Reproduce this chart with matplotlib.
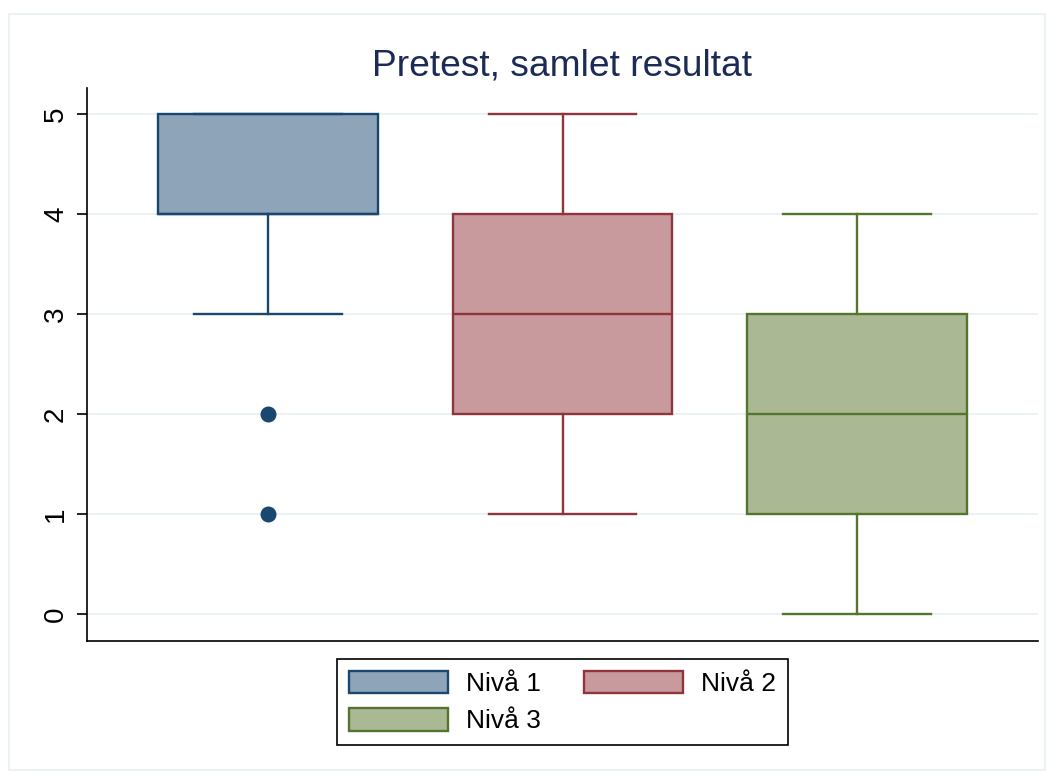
import matplotlib
matplotlib.use("Agg")
import matplotlib.pyplot as plt
from matplotlib.patches import Rectangle, Patch

plt.rcParams['font.family'] = ['Liberation Sans', 'DejaVu Sans']

# Box statistics per level (score 0-5)
levels = ["Nivå 1", "Nivå 2", "Nivå 3"]
q1 = [4, 2, 1]
medians = [4, 3, 2]
q3 = [5, 4, 3]
whisker_lo = [3, 1, 0]
whisker_hi = [5, 5, 4]
outliers = [[2, 1], [], []]

y_ticks = [0, 1, 2, 3, 4, 5]

edge_colors = ["#1a476f", "#90353b", "#55752f"]
fill_colors = ["#8ea4b9", "#c89a9d", "#aab994"]
grid_color = "#eaf2f3"
title_color = "#1c2b55"

fig = plt.figure(figsize=(10.5, 7.74), dpi=100)
fig.patches.append(Rectangle((9 / 1050, 1 - 770 / 774), 1036 / 1050, 756 / 774,
                             transform=fig.transFigure, fill=False,
                             edgecolor=grid_color, linewidth=1.5))

ax = fig.add_axes([87 / 1050, 1 - 641 / 774, 951 / 1050, 553 / 774])

stats = []
for i in range(len(levels)):
    stats.append({
        "med": medians[i], "q1": q1[i], "q3": q3[i],
        "whislo": whisker_lo[i], "whishi": whisker_hi[i],
        "fliers": outliers[i], "label": levels[i],
    })

positions = [1, 2, 3]
lw = 1.7
for i, st in enumerate(stats):
    ec = edge_colors[i]
    ax.bxp([st], positions=[positions[i]], widths=0.747, patch_artist=True,
           boxprops=dict(facecolor=fill_colors[i], edgecolor=ec, linewidth=lw),
           medianprops=dict(color=ec, linewidth=lw),
           whiskerprops=dict(color=ec, linewidth=lw),
           capprops=dict(color=ec, linewidth=lw),
           capwidths=0.5,
           flierprops=dict(marker="o", markerfacecolor=ec, markeredgecolor=ec,
                           markersize=10.5),
           zorder=3)

ax.set_xlim(0.385, 3.615)
ax.set_ylim(-0.27, 5.26)
ax.set_yticks(y_ticks)
ax.set_yticklabels([str(t) for t in y_ticks], rotation=90, va="center",
                   fontsize=20)
ax.tick_params(axis="y", length=7, width=1.2, pad=6, color="black")
ax.set_xticks([])
for y in y_ticks:
    ax.axhline(y, color=grid_color, linewidth=1.5, zorder=0)

ax.spines["top"].set_visible(False)
ax.spines["right"].set_visible(False)
ax.spines["left"].set_linewidth(1.2)
ax.spines["bottom"].set_linewidth(1.2)

ax.set_title("Pretest, samlet resultat", fontsize=26.7, color=title_color, pad=9)

# legend filled row by row: Nivå 1, Nivå 2 / Nivå 3
handles = [Patch(facecolor=fill_colors[i], edgecolor=edge_colors[i],
                 linewidth=lw, label=levels[i]) for i in range(len(levels))]
order = [0, 2, 1]
leg = fig.legend(handles=[handles[i] for i in order], ncol=2, loc="center",
                 bbox_to_anchor=(562.5 / 1050, 1 - 702 / 774),
                 fontsize=19, handlelength=3.75, handleheight=0.95,
                 handletextpad=0.7, columnspacing=1.6, labelspacing=0.45,
                 fancybox=False, edgecolor="black", framealpha=1,
                 borderpad=0.45)
leg.get_frame().set_linewidth(1.2)

fig.savefig("out.png", dpi=100, facecolor="white")
